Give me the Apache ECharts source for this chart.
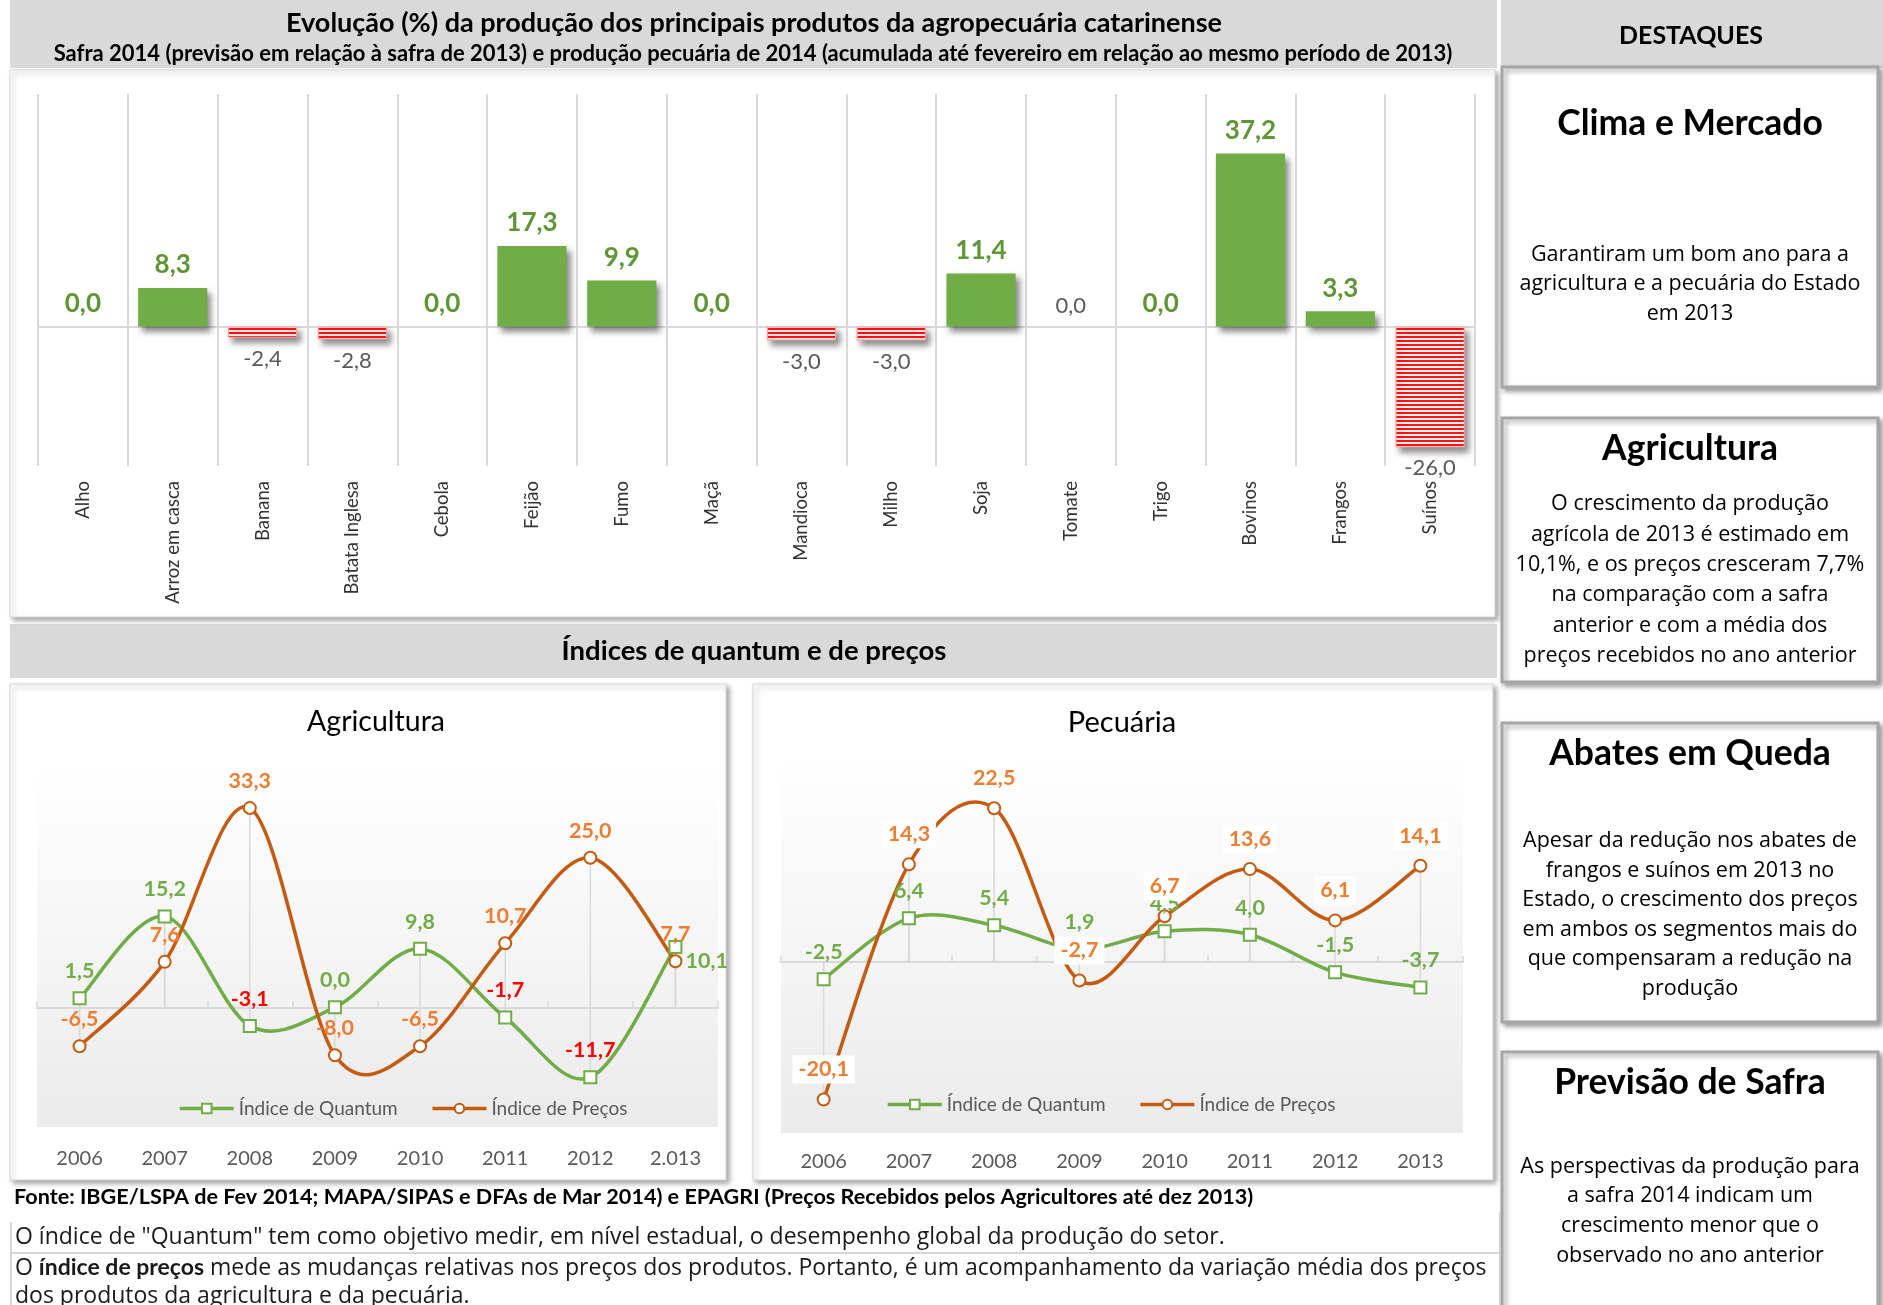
<!DOCTYPE html>
<html>
<head>
<meta charset="utf-8">
<title>Agropecuária catarinense</title>
<script src="https://cdn.jsdelivr.net/npm/echarts@6/dist/echarts.min.js"></script>
<style>
    html, body { margin: 0; padding: 0; background: #fff; }
    #main { width: 1883px; height: 1305px; }
</style>
</head>
<body>
<div id="main"></div>
<script>
// evolução da produção (%), safra 2014 x 2013
var produtos = ['Alho', 'Arroz em casca', 'Banana', 'Batata Inglesa', 'Cebola', 'Feijão', 'Fumo', 'Maçã',
    'Mandioca', 'Milho', 'Soja', 'Tomate', 'Trigo', 'Bovinos', 'Frangos', 'Suínos'];
var variacao = [0.0, 8.3, -2.4, -2.8, 0.0, 17.3, 9.9, 0.0, -3.0, -3.0, 11.4, 0.0, 0.0, 37.2, 3.3, -26.0];

// índices de quantum e de preços
var anosAgri = ['2006', '2007', '2008', '2009', '2010', '2011', '2012', '2.013'];
var anosPec = ['2006', '2007', '2008', '2009', '2010', '2011', '2012', '2013'];
var agriQuantum = [1.5, 15.2, -3.1, 0.0, 9.8, -1.7, -11.7, 10.1];
var agriPrecos = [-6.5, 7.6, 33.3, -8.0, -6.5, 10.7, 25.0, 7.7];
var pecQuantum = [-2.5, 6.4, 5.4, 1.9, 4.5, 4.0, -1.5, -3.7];
var pecPrecos = [-20.1, 14.3, 22.5, -2.7, 6.7, 13.6, 6.1, 14.1];

var VERDE = '#70ad47';
var VERDE_TXT = '#5f9634';
var LARANJA = '#c55a11';
var LARANJA_TXT = '#ed7d31';
var CINZA_TXT = '#595959';

function fmt(v) {
    return v.toFixed(1).replace('.', ',');
}

// listras vermelhas das barras negativas
var listra = document.createElement('canvas');
listra.width = 8;
listra.height = 4;
var ctx = listra.getContext('2d');
ctx.fillStyle = '#fff2f2';
ctx.fillRect(0, 0, 8, 4);
ctx.fillStyle = '#ff1414';
ctx.fillRect(0, 0, 8, 2);

var barData = variacao.map(function(v, i) {
    var neg = v < 0;
    var simples = neg || produtos[i] === 'Tomate';
    var item = {
        value: v,
        label: {
            position: neg ? 'bottom' : 'top',
            color: simples ? CINZA_TXT : VERDE_TXT,
            fontWeight: simples ? 'normal' : 'bold',
            fontSize: simples ? 22 : 26
        }
    };
    if (neg) {
        item.itemStyle = { color: { image: listra, repeat: 'repeat' }, borderColor: '#ff9c9c', borderWidth: 1 };
    }
    if (v === 0) {
        item.itemStyle = { shadowColor: 'rgba(0,0,0,0)' };
    }
    return item;
});

function pontos(valores, corPos, corNeg, extra) {
    return valores.map(function(v, i) {
        var lbl = { color: v < 0 ? corNeg : corPos };
        if (extra && extra[i]) {
            for (var k in extra[i]) lbl[k] = extra[i][k];
        }
        return { value: v, label: lbl };
    });
}

// linhas verticais do ponto até o eixo
function linhasVerticais(q, p, xi, yi) {
    var pts = [];
    q.forEach(function(v, i) {
        pts.push([i, v]);
        pts.push([i, p[i]]);
    });
    return {
        type: 'custom',
        xAxisIndex: xi,
        yAxisIndex: yi,
        silent: true,
        z: 1,
        data: pts,
        renderItem: function(params, api) {
            var a = api.coord([api.value(0), api.value(1)]);
            var b = api.coord([api.value(0), 0]);
            return {
                type: 'line',
                shape: { x1: a[0], y1: a[1], x2: b[0], y2: b[1] },
                style: { stroke: '#d9d9d9', lineWidth: 1.5 }
            };
        }
    };
}

// curva suavizada como no Excel (Catmull-Rom, sem limitar os pontos de controle)
function curva(valores, xi, yi, cor) {
    var n = valores.length;
    return {
        type: 'custom',
        xAxisIndex: xi,
        yAxisIndex: yi,
        silent: true,
        clip: false,
        z: 2,
        data: valores.slice(0, n - 1).map(function(v, i) { return [i, v]; }),
        renderItem: function(params, api) {
            var i = api.value(0);
            function c(j) {
                j = Math.max(0, Math.min(n - 1, j));
                return api.coord([j, valores[j]]);
            }
            var p0 = c(i - 1), p1 = c(i), p2 = c(i + 1), p3 = c(i + 2);
            return {
                type: 'bezierCurve',
                shape: {
                    x1: p1[0], y1: p1[1], x2: p2[0], y2: p2[1],
                    cpx1: p1[0] + (p2[0] - p0[0]) / 6, cpy1: p1[1] + (p2[1] - p0[1]) / 6,
                    cpx2: p2[0] - (p3[0] - p1[0]) / 6, cpy2: p2[1] - (p3[1] - p1[1]) / 6
                },
                style: { stroke: cor, lineWidth: 3.5, fill: 'none' }
            };
        }
    };
}

function serieLinha(nome, dados, xi, yi, tipo, corLinha, caixa) {
    return {
        name: nome,
        type: 'line',
        xAxisIndex: xi,
        yAxisIndex: yi,
        data: dados,
        symbol: tipo,
        symbolSize: 12,
        showAllSymbol: true,
        z: 3,
        lineStyle: { color: corLinha, width: 3.5, opacity: 0 },
        itemStyle: { color: '#fff', borderColor: corLinha, borderWidth: 2 },
        label: {
            show: true,
            position: 'top',
            distance: 9,
            fontFamily: 'Lato',
            fontSize: 21.5,
            fontWeight: 'bold',
            backgroundColor: caixa ? '#fff' : 'transparent',
            padding: caixa ? [3, 6] : 0,
            formatter: function(p) { return fmt(p.value); }
        }
    };
}

function eixoRotulos(grid, dados, margem) {
    return {
        type: 'category', gridIndex: grid, data: dados, boundaryGap: true,
        axisLine: { show: false, onZero: false }, axisTick: { show: false },
        splitLine: { show: false },
        axisLabel: { interval: 0, margin: margem, color: CINZA_TXT, fontFamily: 'Lato', fontSize: 20 }
    };
}

function eixoZero(grid, dados) {
    return {
        type: 'category', gridIndex: grid, data: dados, boundaryGap: true,
        axisLine: { show: true, onZero: true, lineStyle: { color: '#d9d9d9', width: 2 } },
        axisTick: { show: true, length: 6, lineStyle: { color: '#d9d9d9', width: 1.5 } },
        axisLabel: { show: false }, splitLine: { show: false }
    };
}

function legenda(esq, topo) {
    return {
        left: esq, top: topo, itemWidth: 54, itemHeight: 12, itemGap: 33,
        data: [
            { name: 'Índice de Quantum', lineStyle: { color: VERDE, width: 3.5, opacity: 1 } },
            { name: 'Índice de Preços', lineStyle: { color: LARANJA, width: 3.5, opacity: 1 } }
        ],
        textStyle: { color: CINZA_TXT, fontFamily: 'Lato', fontSize: 19 }
    };
}

var fundoGrade = {
    type: 'linear', x: 0, y: 0, x2: 0, y2: 1,
    colorStops: [{ offset: 0, color: '#ffffff' }, { offset: 1, color: '#ebebeb' }]
};

var sombra = { shadowBlur: 5, shadowColor: 'rgba(0,0,0,0.35)', shadowOffsetX: 3, shadowOffsetY: 3 };

function caixa(x, y, w, h, borda) {
    var st = { fill: '#fff', stroke: borda || '#d6d6d6', lineWidth: borda ? 3 : 1 };
    for (var k in sombra) st[k] = sombra[k];
    return { type: 'rect', z: -10, shape: { x: x, y: y, width: w, height: h }, style: st };
}

function texto(x, y, t, fonte, alinhar, extra) {
    var st = { text: t, font: fonte, fill: '#000', align: alinhar || 'center', verticalAlign: 'middle' };
    if (extra) {
        for (var k in extra) st[k] = extra[k];
    }
    return { type: 'text', x: x, y: y, z: 50, style: st };
}

var CORPO = '21.5px "Open Sans"';
var RODAPE = '23px "Open Sans"';
var CAB = 'bold 35.5px Lato';
var CX = 1690;

var graficos = [
    // faixas e painéis
    { type: 'rect', z: -20, shape: { x: 10, y: 0, width: 1487, height: 68 }, style: { fill: '#d9d9d9' } },
    { type: 'rect', z: -20, shape: { x: 1501, y: 0, width: 382, height: 68 }, style: { fill: '#d9d9d9' } },
    caixa(10, 70, 1485, 547),
    { type: 'rect', z: -20, shape: { x: 10, y: 624, width: 1487, height: 54 }, style: { fill: '#d9d9d9' } },
    caixa(10, 684, 716, 496),
    caixa(753, 684, 740, 496),
    caixa(1502, 67, 376, 320, '#a6a6a6'),
    caixa(1502, 418, 376, 264, '#a6a6a6'),
    caixa(1502, 723, 376, 299, '#a6a6a6'),
    caixa(1502, 1052, 376, 280, '#a6a6a6'),

    // títulos
    texto(754, 23, 'Evolução (%) da produção dos principais produtos da agropecuária catarinense', 'bold 27px Lato'),
    texto(753, 54, 'Safra 2014 (previsão em relação à safra de 2013) e produção pecuária de 2014 (acumulada até fevereiro em relação ao mesmo período de 2013)', 'bold 22px Lato'),
    texto(1691, 36, 'DESTAQUES', 'bold 25px Lato'),
    texto(754, 651, 'Índices de quantum e de preços', 'bold 27.5px Lato'),
    texto(376, 722, 'Agricultura', '28.5px Lato'),
    texto(1122, 723, 'Pecuária', '29px Lato'),

    // destaques
    texto(CX, 124, 'Clima e Mercado', CAB),
    texto(CX, 284, 'Garantiram um bom ano para a\nagricultura e a pecuária do Estado\nem 2013', CORPO, 'center', { lineHeight: 29.5 }),
    texto(CX, 449, 'Agricultura', CAB),
    texto(CX, 580, 'O crescimento da produção\nagrícola de 2013 é estimado em\n10,1%, e os preços cresceram 7,7%\nna comparação com a safra\nanterior e com a média dos\npreços recebidos no ano anterior', CORPO, 'center', { lineHeight: 30.3 }),
    texto(CX, 754, 'Abates em Queda', CAB),
    texto(CX, 915, 'Apesar da redução nos abates de\nfrangos e suínos em 2013 no\nEstado, o crescimento dos preços\nem ambos os segmentos mais do\nque compensaram a redução na\nprodução', CORPO, 'center', { lineHeight: 29.5 }),
    texto(CX, 1083, 'Previsão de Safra', CAB),
    texto(CX, 1211, 'As perspectivas da produção para\na safra 2014 indicam um\ncrescimento menor que o\nobservado no ano anterior', CORPO, 'center', { lineHeight: 29.7 }),

    // rodapé
    texto(14, 1197, 'Fonte: IBGE/LSPA de Fev 2014; MAPA/SIPAS e DFAs de Mar 2014) e EPAGRI (Preços Recebidos pelos Agricultores até dez 2013)', 'bold 21.6px Lato', 'left'),
    { type: 'line', z: -5, shape: { x1: 11, y1: 1222, x2: 11, y2: 1305 }, style: { stroke: '#c8c8c8', lineWidth: 1.5 } },
    { type: 'line', z: -5, shape: { x1: 1500, y1: 1212, x2: 1500, y2: 1305 }, style: { stroke: '#c8c8c8', lineWidth: 1.5 } },
    { type: 'line', z: -5, shape: { x1: 11, y1: 1253, x2: 1500, y2: 1253 }, style: { stroke: '#c8c8c8', lineWidth: 1.5 } },
    texto(15, 1237, 'O índice de "Quantum" tem como objetivo medir, em nível estadual, o desempenho global da produção do setor.', RODAPE, 'left', { fill: '#1a1a1a' }),
    texto(15, 1268, 'O {b|índice de preços} mede as mudanças relativas nos preços dos produtos. Portanto, é um acompanhamento da variação média dos preços', RODAPE, 'left',
        { fill: '#1a1a1a', rich: { b: { font: 'bold 23px Lato', fill: '#1a1a1a' } } }),
    texto(15, 1296, 'dos produtos da agricultura e da pecuária.', RODAPE, 'left', { fill: '#1a1a1a' })
];

var chart = echarts.init(document.getElementById('main'));

var option = {
    backgroundColor: '#fff',
    animation: false,
    textStyle: { fontFamily: 'Lato' },
    graphic: { elements: graficos },
    grid: [
        { left: 38, top: 94, width: 1437, height: 372, outerBoundsMode: 'none' },
        { left: 37, top: 768, width: 681, height: 359, show: true, backgroundColor: fundoGrade, borderWidth: 0, outerBoundsMode: 'none' },
        { left: 781, top: 757, width: 682, height: 376, show: true, backgroundColor: fundoGrade, borderWidth: 0, outerBoundsMode: 'none' }
    ],
    legend: [legenda(173, 1094), legenda(881, 1090)],
    xAxis: [{
        type: 'category', gridIndex: 0, data: produtos, boundaryGap: true,
        axisLine: { show: false, onZero: false }, axisTick: { show: false },
        splitLine: { show: true, lineStyle: { color: '#d9d9d9', width: 2 } },
        axisLabel: { interval: 0, rotate: 90, margin: 15, color: '#333', fontFamily: 'Lato', fontSize: 18.5 }
    }, {
        type: 'category', gridIndex: 0, data: produtos, boundaryGap: true,
        axisLine: { show: true, onZero: true, lineStyle: { color: '#d9d9d9', width: 2 } },
        axisTick: { show: false }, axisLabel: { show: false }, splitLine: { show: false }
    },
        eixoRotulos(1, anosAgri, 22),
        eixoZero(1, anosAgri),
        eixoRotulos(2, anosPec, 19),
        eixoZero(2, anosPec)
    ],
    yAxis: [
        { type: 'value', gridIndex: 0, min: -30, max: 50, show: false },
        { type: 'value', gridIndex: 1, min: -20, max: 40, show: false },
        { type: 'value', gridIndex: 2, min: -25, max: 30, show: false }
    ],
    series: [{
        type: 'bar',
        xAxisIndex: 0,
        yAxisIndex: 0,
        barWidth: '77%',
        data: barData,
        itemStyle: {
            color: VERDE,
            shadowBlur: 6,
            shadowColor: 'rgba(0,0,0,0.45)',
            shadowOffsetX: 4,
            shadowOffsetY: 5
        },
        label: {
            show: true,
            distance: 10,
            fontFamily: 'Lato',
            formatter: function(p) { return fmt(p.value); }
        }
    },
        linhasVerticais(agriQuantum, agriPrecos, 2, 1),
        curva(agriQuantum, 2, 1, VERDE),
        curva(agriPrecos, 2, 1, LARANJA),
        serieLinha('Índice de Quantum', pontos(agriQuantum, VERDE, '#ff0000', { 7: { position: 'right', distance: 3, offset: [0, 14] } }), 2, 1, 'rect', VERDE, false),
        serieLinha('Índice de Preços', pontos(agriPrecos, LARANJA_TXT, LARANJA_TXT), 2, 1, 'circle', LARANJA, false),
        linhasVerticais(pecQuantum, pecPrecos, 4, 2),
        curva(pecQuantum, 4, 2, VERDE),
        curva(pecPrecos, 4, 2, LARANJA),
        serieLinha('Índice de Quantum', pontos(pecQuantum, VERDE, VERDE), 4, 2, 'rect', VERDE, false),
        serieLinha('Índice de Preços', pontos(pecPrecos, LARANJA_TXT, LARANJA_TXT), 4, 2, 'circle', LARANJA, true)
    ]
};

chart.setOption(option);
</script>
</body>
</html>
